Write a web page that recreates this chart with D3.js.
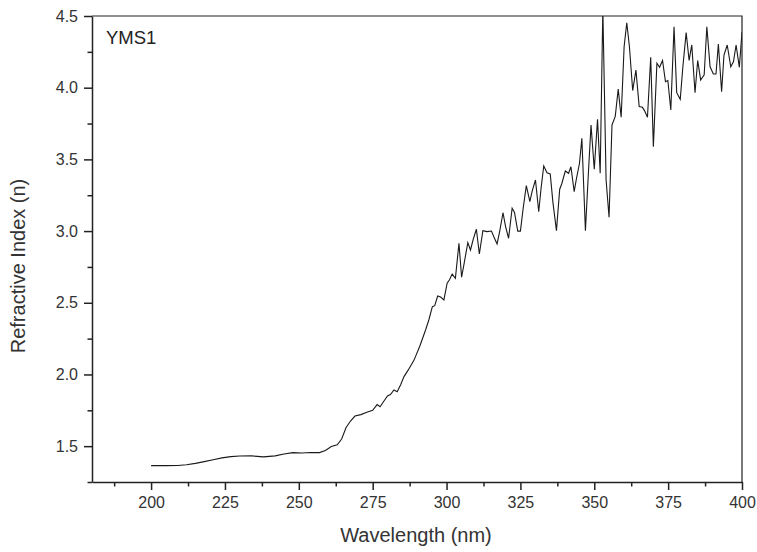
<!DOCTYPE html>
<html>
<head>
<meta charset="utf-8">
<script src="https://cdn.jsdelivr.net/npm/d3@7"></script>
<style>
  body { margin: 0; background: #fff; }
  svg { font-family: "Liberation Sans", Arial, sans-serif; }
</style>
</head>
<body>
<svg id="chart"></svg>
<script>
const w = 757;
const h = 552;
const margin = { top: 16, right: 15, bottom: 70, left: 92 };

// wavelength (nm) and refractive index
const wavelength = [
  200, 205, 209, 212, 215, 218, 221, 224, 227, 230, 234, 238, 242, 245, 248, 251, 254, 257, 259, 261,
  263, 264.5, 266, 267.5, 269, 271, 273, 275, 276.5, 277.5, 279, 280, 281, 282.2, 283.3, 284.5, 285.6, 287, 289, 291,
  292.9, 294, 295.2, 296, 297, 298, 299.1, 300.2, 301, 301.9, 303, 304.2, 305.1, 306, 307.2, 308.1, 309, 310.1, 311.1, 312.3,
  313.7, 315.2, 316, 317.1, 318, 319.1, 320, 321, 322.2, 323, 324.1, 325, 326, 327, 328.2, 329, 330.1, 331.2, 332, 332.9,
  334, 335.1, 336, 337.2, 338.3, 339, 340.2, 341.3, 342.1, 343.2, 344, 345, 345.8, 347, 348, 348.9, 350, 351.1, 352, 352.9,
  354, 355, 356, 357.1, 358.1, 359.1, 360.1, 361, 361.9, 363, 364.1, 365.2, 366.3, 367, 368, 369.1, 370, 371.2, 372.1, 373.1,
  374.1, 374.9, 375.9, 377, 377.9, 379.1, 380, 381.1, 382.1, 383, 384.1, 385, 386, 387.2, 388.1, 389.2, 390.3, 391.2, 392, 393.1,
  393.9, 395, 396.2, 397.1, 398, 399.1, 400
];
const refIndex = [
  1.364, 1.364, 1.365, 1.370, 1.380, 1.392, 1.405, 1.418, 1.427, 1.431, 1.432, 1.425, 1.432, 1.445, 1.455, 1.452, 1.456, 1.455, 1.47, 1.497,
  1.51, 1.55, 1.63, 1.675, 1.71, 1.72, 1.736, 1.75, 1.79, 1.775, 1.82, 1.85, 1.86, 1.892, 1.88, 1.93, 1.985, 2.03, 2.10, 2.20,
  2.31, 2.38, 2.473, 2.48, 2.547, 2.54, 2.52, 2.636, 2.66, 2.70, 2.67, 2.915, 2.678, 2.78, 2.92, 2.868, 2.94, 3.013, 2.84, 3.003,
  2.996, 3.0, 2.96, 2.91, 3.0, 3.128, 3.03, 2.95, 3.159, 3.13, 3.0, 3.0, 3.17, 3.317, 3.205, 3.28, 3.356, 3.135, 3.3, 3.454,
  3.407, 3.398, 3.2, 3.003, 3.292, 3.33, 3.419, 3.403, 3.449, 3.275, 3.37, 3.473, 3.647, 3.003, 3.4, 3.74, 3.431, 3.78, 3.403, 4.55,
  3.356, 3.096, 3.74, 3.80, 3.99, 3.794, 4.286, 4.453, 4.286, 3.98, 4.123, 3.868, 3.863, 3.84, 3.794, 4.212, 3.589, 4.17, 4.142, 4.19,
  4.042, 4.05, 3.844, 4.425, 3.965, 3.919, 4.15, 4.384, 4.19, 4.298, 3.965, 4.19, 4.054, 4.09, 4.425, 4.146, 4.096, 4.096, 4.305, 3.972,
  4.228, 4.298, 4.146, 4.181, 4.298, 4.142, 4.39
];

const xTicks = [200, 225, 250, 275, 300, 325, 350, 375, 400];
const xMinorTicks = [187.5, 212.5, 237.5, 262.5, 287.5, 312.5, 337.5, 362.5, 387.5];
const yTicks = [1.5, 2.0, 2.5, 3.0, 3.5, 4.0, 4.5];
const yMinorTicks = [1.25, 1.75, 2.25, 2.75, 3.25, 3.75, 4.25];

const sampleName = "YMS1";
const xTitle = "Wavelength (nm)";
const yTitle = "Refractive Index (n)";

const data = wavelength.map((d, i) => [d, refIndex[i]]);

const xScale = d3.scaleLinear()
    .domain([180, 400])
    .range([margin.left, w - margin.right]);
const yScale = d3.scaleLinear()
    .domain([1.25, 4.5])
    .range([h - margin.bottom, margin.top]);

const svg = d3.select("#chart")
    .attr("width", w)
    .attr("height", h);

svg.append("clipPath")
    .attr("id", "plot-clip")
    .append("rect")
    .attr("x", margin.left)
    .attr("y", margin.top)
    .attr("width", w - margin.right - margin.left)
    .attr("height", h - margin.bottom - margin.top);

const line = d3.line()
    .x(d => xScale(d[0]))
    .y(d => yScale(d[1]));

svg.append("path")
    .datum(data)
    .attr("clip-path", "url(#plot-clip)")
    .attr("fill", "none")
    .attr("stroke", "#1a1a1a")
    .attr("stroke-width", 1.1)
    .attr("d", line);

// frame top / right
svg.append("path")
    .attr("d", `M${xScale(180)},${yScale(4.5)}H${xScale(400)}V${yScale(1.25)}`)
    .attr("fill", "none")
    .attr("stroke", "#222")
    .attr("stroke-width", 1.2);

// minor ticks
svg.append("g")
    .attr("transform", `translate(0,${h - margin.bottom})`)
    .call(d3.axisBottom(xScale).tickValues(xMinorTicks).tickSize(4.5).tickFormat(""))
    .call(g => g.select(".domain").remove());

svg.append("g")
    .attr("transform", `translate(${margin.left},0)`)
    .call(d3.axisLeft(yScale).tickValues(yMinorTicks).tickSize(4.5).tickFormat(""))
    .call(g => g.select(".domain").remove());

// X axis
svg.append("g")
    .attr("transform", `translate(0,${h - margin.bottom})`)
    .call(d3.axisBottom(xScale).tickValues(xTicks).tickSize(8).tickSizeOuter(0).tickPadding(7).tickFormat(d3.format("d")));

// Y axis
svg.append("g")
    .attr("transform", `translate(${margin.left},0)`)
    .call(d3.axisLeft(yScale).tickValues(yTicks).tickSize(8).tickSizeOuter(0).tickPadding(6).tickFormat(d3.format(".1f")));

svg.selectAll(".tick line").attr("stroke", "#222").attr("stroke-width", 1.5);
svg.selectAll(".domain").attr("stroke", "#222").attr("stroke-width", 1.5);
svg.selectAll(".tick text")
    .attr("font-size", 16)
    .attr("fill", "#333")
    .style("font-family", "'Liberation Sans', Arial, sans-serif");

svg.append("text")
    .attr("x", 416)
    .attr("y", 542)
    .attr("text-anchor", "middle")
    .attr("font-size", 20)
    .attr("fill", "#333")
    .text(xTitle);

svg.append("text")
    .attr("transform", `translate(25,266) rotate(-90)`)
    .attr("text-anchor", "middle")
    .attr("font-size", 20)
    .attr("fill", "#333")
    .text(yTitle);

svg.append("text")
    .attr("x", 106)
    .attr("y", 44)
    .attr("font-size", 18.5)
    .attr("fill", "#222")
    .text(sampleName);
</script>
</body>
</html>
